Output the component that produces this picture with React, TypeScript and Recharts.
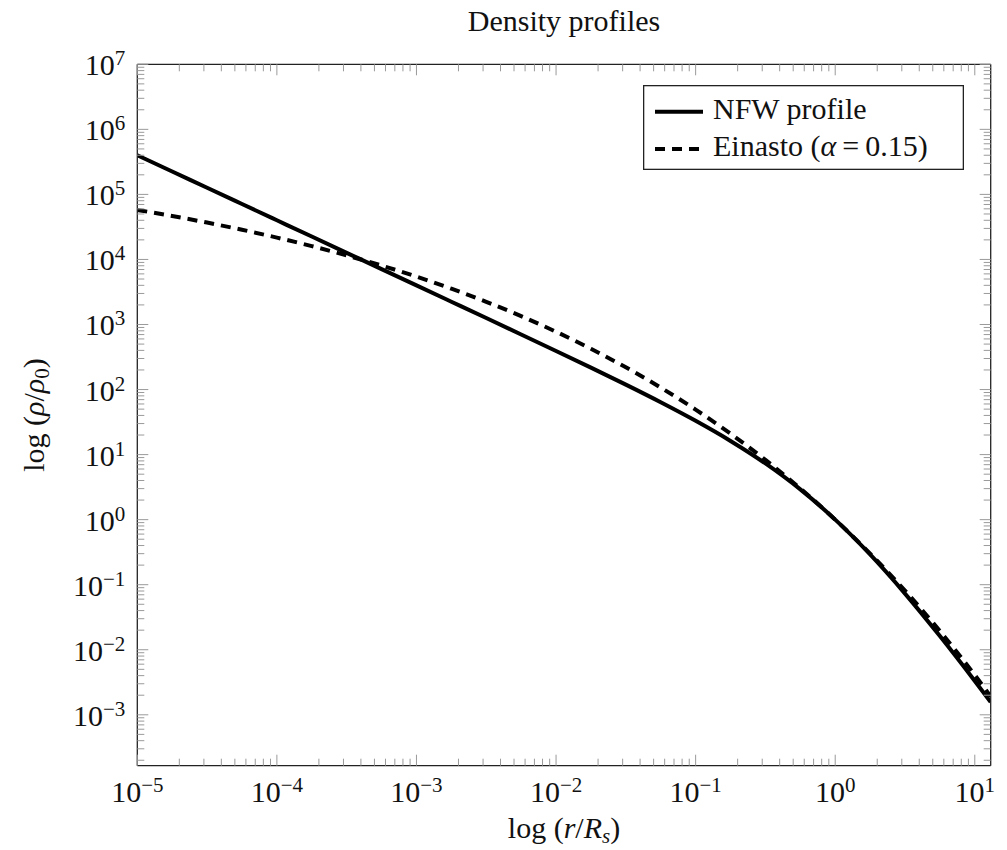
import { LineChart, Line, XAxis, YAxis, Label } from 'recharts';

// radius r/R_s, sampled every quarter decade
const radius = [
  1e-5, 1.778e-5, 3.162e-5, 5.623e-5,
  1e-4, 1.778e-4, 3.162e-4, 5.623e-4,
  1e-3, 1.778e-3, 3.162e-3, 5.623e-3,
  1e-2, 1.778e-2, 3.162e-2, 5.623e-2,
  0.1, 0.1778, 0.3162, 0.5623,
  1, 1.778, 3.162, 5.623,
  10, 13,
];

const nfwValues = [
  4.0e5, 2.249e5, 1.265e5, 7.113e4,
  3.999e4, 2.249e4, 1.264e4, 7105,
  3992, 2241, 1257, 703.4,
  392.1, 217.2, 118.9, 63.76,
  33.06, 16.22, 7.302, 2.914,
  1, 0.2915, 0.07303, 0.01622,
  0.003306, 0.00157,
];

const einastoValues = [
  5.764e4, 4.654e4, 3.687e4, 2.86e4,
  2.168e4, 1.603e4, 1.153e4, 8054,
  5445, 3554, 2232, 1344,
  773.4, 423.3, 219.5, 107.2,
  49.11, 20.96, 8.286, 3.013,
  1, 0.3005, 0.08101, 0.0194,
  0.004084, 0.001916,
];

const xMajorTicks = [1e-5, 1e-4, 1e-3, 1e-2, 1e-1, 1, 10];
const yMajorTicks = [1e-3, 1e-2, 1e-1, 1, 10, 1e2, 1e3, 1e4, 1e5, 1e6, 1e7];

const X_DOMAIN = [1e-5, 13];
const Y_DOMAIN = [1.65e-4, 1e7];

const series = [
  { key: 'nfw', name: 'NFW profile', dash: undefined as string | undefined },
  { key: 'einasto', name: 'Einasto', dash: '10 7' },
];

const data = radius.map((r, i) => ({ r, nfw: nfwValues[i], einasto: einastoValues[i] }));

// minor ticks 2..9 inside every decade
const withMinor = (majors: number[], lo: number, hi: number) => {
  const out: number[] = [];
  for (let e = Math.log10(majors[0]) - 1; e <= Math.log10(majors[majors.length - 1]); e++) {
    for (let m = 1; m <= 9; m++) {
      const v = m * Math.pow(10, e);
      if (v >= lo && v <= hi) out.push(v);
    }
  }
  return out;
};
const xTicks = withMinor(xMajorTicks, X_DOMAIN[0], X_DOMAIN[1]);
const yTicks = withMinor(yMajorTicks, Y_DOMAIN[0], Y_DOMAIN[1]);

const FONT = "'Liberation Serif', 'DejaVu Serif', serif";
const FS = 30;
const SUB = 21;
const TICK = '#9a9a9a';
const INK = '#111';
const FRAME = { stroke: '#222', strokeWidth: 1.3 };
const MAJOR_LEN = 11;
const MINOR_LEN = 7;

const isMajor = (v: number) => Math.abs(Math.log10(v) - Math.round(Math.log10(v))) < 1e-6;
const expText = (v: number) => {
  const e = Math.round(Math.log10(v));
  return e < 0 ? '\u2212' + Math.abs(e) : String(e);
};

const BottomTick = ({ x, y, payload }: any) => {
  const major = isMajor(payload.value);
  return (
    <g>
      <line x1={x} x2={x} y1={y} y2={y - (major ? MAJOR_LEN : MINOR_LEN)} stroke={TICK} />
      {major && (
        <text x={x} y={y + 36} textAnchor="middle" fontSize={FS} fontFamily={FONT} fill={INK}>
          10<tspan dy={-10} fontSize={SUB}>{expText(payload.value)}</tspan>
        </text>
      )}
    </g>
  );
};

const TopTick = ({ x, y, payload }: any) => {
  const len = isMajor(payload.value) ? MAJOR_LEN : MINOR_LEN;
  return <line x1={x} x2={x} y1={y} y2={y + len} stroke={TICK} />;
};

const LeftTick = ({ x, y, payload }: any) => {
  const major = isMajor(payload.value);
  return (
    <g>
      <line x1={x} x2={x + (major ? MAJOR_LEN : MINOR_LEN)} y1={y} y2={y} stroke={TICK} />
      {major && (
        <text x={x - 12} y={y + 11} textAnchor="end" fontSize={FS} fontFamily={FONT} fill={INK}>
          10<tspan dy={-10} fontSize={SUB}>{expText(payload.value)}</tspan>
        </text>
      )}
    </g>
  );
};

const RightTick = ({ x, y, payload }: any) => {
  const len = isMajor(payload.value) ? MAJOR_LEN : MINOR_LEN;
  return <line x1={x} x2={x - len} y1={y} y2={y} stroke={TICK} />;
};

const XTitle = ({ viewBox }: any) => (
  <text x={viewBox.x + viewBox.width / 2} y={viewBox.y + 72} textAnchor="middle" fontSize={FS} fontFamily={FONT} fill={INK}>
    log (<tspan fontStyle="italic">r</tspan>/<tspan fontStyle="italic">R</tspan>
    <tspan dy={5} fontSize={SUB} fontStyle="italic">s</tspan>
    <tspan dy={-5}>)</tspan>
  </text>
);

const YTitle = ({ viewBox }: any) => {
  const cx = viewBox.x + viewBox.width - 93;
  const cy = viewBox.y + viewBox.height / 2;
  return (
    <text x={cx} y={cy} transform={`rotate(-90, ${cx}, ${cy})`} textAnchor="middle" fontSize={FS} fontFamily={FONT} fill={INK}>
      log (<tspan fontStyle="italic">ρ</tspan>/<tspan fontStyle="italic">ρ</tspan>
      <tspan dy={5} fontSize={SUB}>0</tspan>
      <tspan dy={-5}>)</tspan>
    </text>
  );
};

const ChartTitle = ({ viewBox }: any) => (
  <text x={viewBox.x + viewBox.width / 2} y={viewBox.y - 32} textAnchor="middle" fontSize={FS} fontFamily={FONT} fill={INK}>
    Density profiles
  </text>
);

const LegendBox = () => (
  <svg width={321} height={85} style={{ position: 'absolute', left: 643, top: 85, background: '#fff' }}>
    <rect x={0.65} y={0.65} width={319.7} height={83.7} fill="#fff" stroke="#222" strokeWidth={1.3} />
    {series.map((s, i) => {
      const cy = 26.7 + i * 37.3;
      return (
        <g key={s.key}>
          <line x1={12} x2={60} y1={cy} y2={cy} stroke="#000" strokeWidth={4} strokeDasharray={s.dash} />
          <text x={70} y={cy + 7} fontSize={FS} fontFamily={FONT} fill={INK}>
            {s.key === 'einasto' ? (
              <>
                {s.name} (<tspan fontStyle="italic">α</tspan>{'\u2009=\u2009'}0.15)
              </>
            ) : (
              s.name
            )}
          </text>
        </g>
      );
    })}
  </svg>
);

export default function App() {
  return (
    <div style={{ position: 'absolute', left: 0, top: 0, width: 1007, height: 850, background: '#fff' }}>
      <LineChart width={1007} height={850} data={data} margin={{ top: 63.3, right: 15.3, bottom: 83.3, left: 136.3 }}>
        <XAxis
          dataKey="r"
          type="number"
          scale="log"
          domain={X_DOMAIN}
          allowDataOverflow
          ticks={xTicks}
          interval={0}
          height={1}
          tickSize={0}
          tickMargin={0}
          tickLine={false}
          axisLine={FRAME}
          tick={<BottomTick />}
        >
          <Label content={<XTitle />} />
        </XAxis>
        <XAxis
          xAxisId="top"
          orientation="top"
          dataKey="r"
          type="number"
          scale="log"
          domain={X_DOMAIN}
          allowDataOverflow
          ticks={xTicks}
          interval={0}
          height={1}
          tickSize={0}
          tickMargin={0}
          tickLine={false}
          axisLine={FRAME}
          tick={<TopTick />}
        >
          <Label content={<ChartTitle />} />
        </XAxis>
        <YAxis
          type="number"
          scale="log"
          domain={Y_DOMAIN}
          allowDataOverflow
          ticks={yTicks}
          interval={0}
          width={1}
          tickSize={0}
          tickMargin={0}
          tickLine={false}
          axisLine={FRAME}
          tick={<LeftTick />}
        >
          <Label content={<YTitle />} />
        </YAxis>
        <YAxis
          yAxisId="right"
          orientation="right"
          type="number"
          scale="log"
          domain={Y_DOMAIN}
          allowDataOverflow
          ticks={yTicks}
          interval={0}
          width={1}
          tickSize={0}
          tickMargin={0}
          tickLine={false}
          axisLine={FRAME}
          tick={<RightTick />}
        />
        {series.map((s) => (
          <Line
            key={s.key}
            dataKey={s.key}
            name={s.name}
            type="monotone"
            stroke="#000"
            strokeWidth={4}
            strokeDasharray={s.dash}
            dot={false}
            isAnimationActive={false}
          />
        ))}
      </LineChart>
      <LegendBox />
    </div>
  );
}
